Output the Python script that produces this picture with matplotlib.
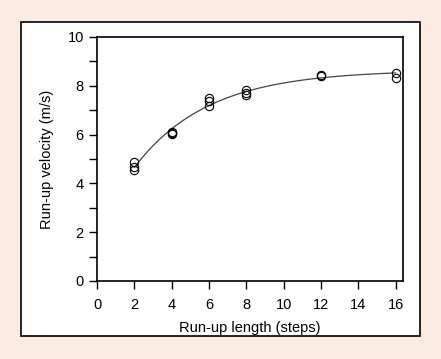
import numpy as np
import matplotlib.pyplot as plt
from matplotlib.patches import Rectangle
from matplotlib.ticker import MultipleLocator

plt.rcParams['font.family'] = ['Liberation Sans', 'DejaVu Sans']

# measured run-up velocities per run-up length
steps = [2, 2, 2, 4, 4, 4, 6, 6, 6, 8, 8, 8, 12, 12, 16, 16]
velocity = [4.88, 4.67, 4.55, 6.12, 6.07, 6.02, 7.52, 7.37, 7.17,
            7.82, 7.72, 7.62, 8.45, 8.40, 8.52, 8.34]

# exponential fit v = a - b*exp(-c*x), grid search on c with linear least squares
x = np.array(steps, dtype=float)
y = np.array(velocity)
best = None
for c in np.linspace(0.05, 1.0, 400):
    A = np.column_stack([np.ones_like(x), -np.exp(-c * x)])
    coef, res, *_ = np.linalg.lstsq(A, y, rcond=None)
    err = np.sum((A @ coef - y) ** 2)
    if best is None or err < best[0]:
        best = (err, c, coef)
_, c, (a, b) = best
xf = np.linspace(2, 16, 200)
yf = a - b * np.exp(-c * xf)

fig = plt.figure(figsize=(4.41, 3.59), dpi=100)
fig.patch.set_facecolor('#fcebe1')
fig.patches.append(Rectangle((21 / 441, 1 - 336 / 359), 399 / 441, 314 / 359,
                             transform=fig.transFigure, facecolor='white',
                             edgecolor='black', linewidth=1.2, zorder=-5))

ax = fig.add_axes([97 / 441, 1 - 281 / 359, 306 / 441, 244 / 359])
ax.plot(xf, yf, color='#444444', linewidth=0.9)
ax.plot(steps, velocity, 'o', markerfacecolor='none', markeredgecolor='black',
        markersize=6, markeredgewidth=0.8)

ax.set_xlim(0, 16.4)
ax.set_ylim(0, 10)
ax.xaxis.set_major_locator(MultipleLocator(2))
ax.yaxis.set_major_locator(MultipleLocator(2))
ax.yaxis.set_minor_locator(MultipleLocator(1))
ax.tick_params(which='both', direction='out', length=6, width=1, labelsize=10.5)
ax.tick_params(axis='x', pad=6)
for s in ax.spines.values():
    s.set_linewidth(1.2)

ax.set_xlabel('Run-up length (steps)', fontsize=10.5, labelpad=7)
ax.set_ylabel('Run-up velocity (m/s)', fontsize=10.5, labelpad=10)

plt.savefig('out.png', dpi=100, facecolor=fig.get_facecolor())
